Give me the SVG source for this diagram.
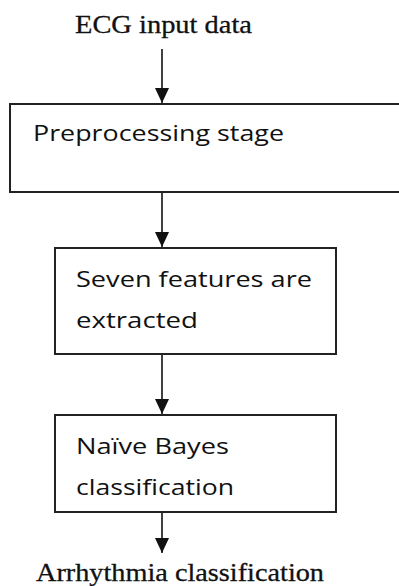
<svg xmlns="http://www.w3.org/2000/svg" width="399" height="586" viewBox="0 0 399 586">
  <style>
    .box { fill: #ffffff; stroke: #222222; stroke-width: 2; }
    .flow { stroke: #111111; stroke-width: 1.6; fill: none; }
    .label { font-family: "Open Sans", "Liberation Sans", sans-serif; font-size: 21px; fill: #111111; }
    .io { font-family: "Liberation Serif", "Times New Roman", serif; font-size: 26px; fill: #111111; stroke: #111111; stroke-width: 0.3; }
  </style>
  <defs>
    <marker id="arrow" markerUnits="userSpaceOnUse" markerWidth="14" markerHeight="16" refX="15" refY="7" orient="auto">
      <path d="M0,0 L15,7 L0,14 Z" fill="#111111"/>
    </marker>
  </defs>
  <rect width="399" height="586" fill="#ffffff"/>

  <g id="input">
    <text class="io" x="75" y="33" textLength="177" lengthAdjust="spacingAndGlyphs">ECG input data</text>
  </g>

  <g id="preprocessing">
    <rect class="box" x="10" y="104" width="400" height="88"/>
    <text class="label" x="33" y="141" textLength="251" lengthAdjust="spacingAndGlyphs">Preprocessing stage</text>
  </g>

  <g id="features">
    <rect class="box" x="55" y="248" width="281" height="106"/>
    <text class="label" x="76" y="287" textLength="236" lengthAdjust="spacingAndGlyphs">Seven features are</text>
    <text class="label" x="76" y="328" textLength="122" lengthAdjust="spacingAndGlyphs">extracted</text>
  </g>

  <g id="classifier">
    <rect class="box" x="55" y="415" width="281" height="97"/>
    <text class="label" x="76" y="454" textLength="153" lengthAdjust="spacingAndGlyphs">Naïve Bayes</text>
    <text class="label" x="76" y="495" textLength="158" lengthAdjust="spacingAndGlyphs">classification</text>
  </g>

  <g id="output">
    <text class="io" x="36" y="581" textLength="288" lengthAdjust="spacingAndGlyphs">Arrhythmia classification</text>
  </g>

  <g id="connectors">
    <line class="flow" x1="162" y1="49" x2="162" y2="103" marker-end="url(#arrow)"/>
    <line class="flow" x1="162" y1="193" x2="162" y2="247" marker-end="url(#arrow)"/>
    <line class="flow" x1="162" y1="355" x2="162" y2="414" marker-end="url(#arrow)"/>
    <line class="flow" x1="162" y1="513" x2="162" y2="553" marker-end="url(#arrow)"/>
  </g>
</svg>
